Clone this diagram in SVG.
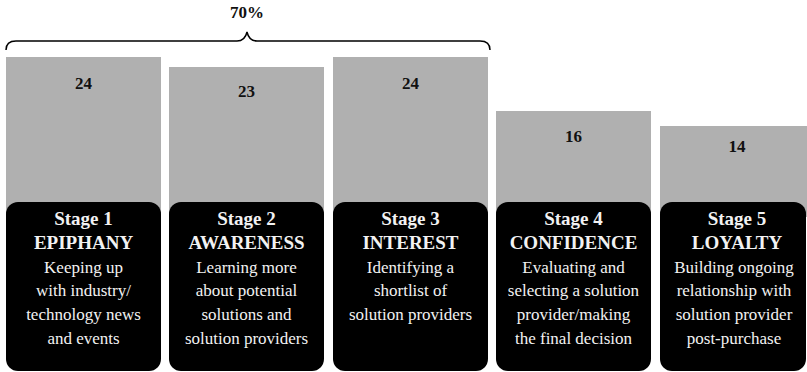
<svg xmlns="http://www.w3.org/2000/svg" width="807" height="372" viewBox="0 0 807 372">
<style>
text{font-family:'Liberation Serif','Times New Roman','DejaVu Serif',serif}
.bar{fill:#b0b0b0}
.box{fill:#000}
.num{font-weight:bold;font-size:17px;fill:#111;text-anchor:middle}
.hd{font-weight:bold;font-size:19px;fill:#f2f2f2;text-anchor:middle}
.tx{font-size:17px;fill:#f2f2f2;text-anchor:middle}
</style>
<rect width="807" height="372" fill="#fff"/>
<g id="brace">
<text class="num" x="247" y="18">70%</text>
<path d="M6,50 Q6,41 16,41 L237,41 Q245,41 247,32 Q249,41 257,41 L480,41 Q490,41 490,50" fill="none" stroke="#000" stroke-width="1.5"/>
</g>
<g id="connectors"></g>
<g id="stage1">
<rect class="bar" x="6" y="57" width="155" height="160"/>
<text class="num" x="83.5" y="89">24</text>
<rect class="box" x="6" y="202" width="155" height="169" rx="12"/>
<text class="hd" x="83.5" y="225">Stage 1</text>
<text class="hd" x="83.5" y="249">EPIPHANY</text>
<text class="tx" x="83.5" y="273">Keeping up</text>
<text class="tx" x="83.5" y="296">with industry/</text>
<text class="tx" x="83.5" y="320">technology news</text>
<text class="tx" x="83.5" y="344">and events</text>
</g>
<g id="stage2">
<rect class="bar" x="169" y="67" width="155" height="150"/>
<text class="num" x="246.5" y="97">23</text>
<rect class="box" x="169" y="202" width="155" height="169" rx="12"/>
<text class="hd" x="246.5" y="225">Stage 2</text>
<text class="hd" x="246.5" y="249">AWARENESS</text>
<text class="tx" x="246.5" y="273">Learning more</text>
<text class="tx" x="246.5" y="296">about potential</text>
<text class="tx" x="246.5" y="320">solutions and</text>
<text class="tx" x="246.5" y="344">solution providers</text>
</g>
<g id="stage3">
<rect class="bar" x="333" y="57" width="155" height="160"/>
<text class="num" x="410.5" y="89">24</text>
<rect class="box" x="333" y="202" width="155" height="169" rx="12"/>
<text class="hd" x="410.5" y="225">Stage 3</text>
<text class="hd" x="410.5" y="249">INTEREST</text>
<text class="tx" x="410.5" y="273">Identifying a</text>
<text class="tx" x="410.5" y="296">shortlist of</text>
<text class="tx" x="410.5" y="320">solution providers</text>
</g>
<g id="stage4">
<rect class="bar" x="496" y="111" width="155" height="106"/>
<text class="num" x="573.5" y="142">16</text>
<rect class="box" x="496" y="202" width="155" height="169" rx="12"/>
<text class="hd" x="573.5" y="225">Stage 4</text>
<text class="hd" x="573.5" y="249">CONFIDENCE</text>
<text class="tx" x="573.5" y="273">Evaluating and</text>
<text class="tx" x="573.5" y="296">selecting a solution</text>
<text class="tx" x="573.5" y="320">provider/making</text>
<text class="tx" x="573.5" y="344">the final decision</text>
</g>
<g id="stage5">
<rect class="bar" x="660" y="126" width="155" height="91"/>
<text class="num" x="737" y="152">14</text>
<rect class="box" x="660" y="202" width="146" height="169" rx="12"/>
<text class="hd" x="737" y="225">Stage 5</text>
<text class="hd" x="737" y="249">LOYALTY</text>
<text class="tx" x="734" y="273">Building ongoing</text>
<text class="tx" x="734" y="296">relationship with</text>
<text class="tx" x="734" y="320">solution provider</text>
<text class="tx" x="734" y="344">post-purchase</text>
</g>
</svg>
